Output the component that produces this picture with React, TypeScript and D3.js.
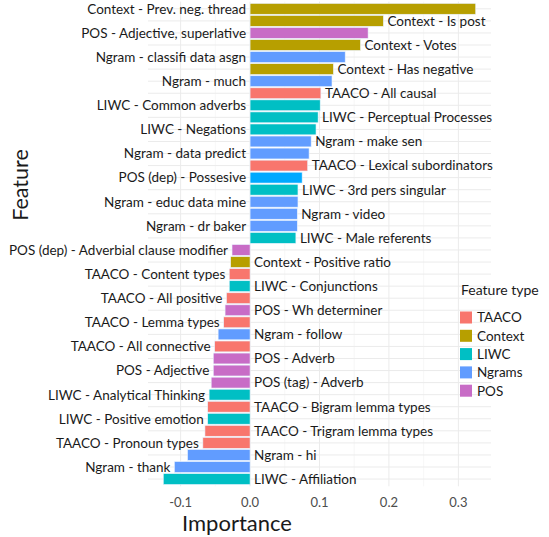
import React from "react";
import * as d3 from "d3";

const features = [
  "Context - Prev. neg. thread",
  "Context - Is post",
  "POS - Adjective, superlative",
  "Context - Votes",
  "Ngram - classifi data asgn",
  "Context - Has negative",
  "Ngram - much",
  "TAACO - All causal",
  "LIWC - Common adverbs",
  "LIWC - Perceptual Processes",
  "LIWC - Negations",
  "Ngram - make sen",
  "Ngram - data predict",
  "TAACO - Lexical subordinators",
  "POS (dep) - Possesive",
  "LIWC - 3rd pers singular",
  "Ngram - educ data mine",
  "Ngram - video",
  "Ngram - dr baker",
  "LIWC - Male referents",
  "POS (dep) - Adverbial clause modifier",
  "Context - Positive ratio",
  "TAACO - Content types",
  "LIWC - Conjunctions",
  "TAACO - All positive",
  "POS - Wh determiner",
  "TAACO - Lemma types",
  "Ngram - follow",
  "TAACO - All connective",
  "POS - Adverb",
  "POS - Adjective",
  "POS (tag) - Adverb",
  "LIWC - Analytical Thinking",
  "TAACO - Bigram lemma types",
  "LIWC - Positive emotion",
  "TAACO - Trigram lemma types",
  "TAACO - Pronoun types",
  "Ngram - hi",
  "Ngram - thank",
  "LIWC - Affiliation",
];

const importance = [
  0.325, 0.192, 0.170, 0.159, 0.137, 0.120, 0.118, 0.102, 0.101, 0.098,
  0.095, 0.088, 0.085, 0.083, 0.075, 0.069, 0.069, 0.068, 0.068, 0.066,
  -0.026, -0.028, -0.030, -0.030, -0.034, -0.036, -0.038, -0.046, -0.051, -0.053,
  -0.053, -0.056, -0.059, -0.061, -0.061, -0.065, -0.068, -0.090, -0.109, -0.125,
];

const featureType = [
  "Context", "Context", "POS", "Context", "Ngrams", "Context", "Ngrams", "TAACO", "LIWC", "LIWC",
  "LIWC", "Ngrams", "Ngrams", "TAACO", "POSdep", "LIWC", "Ngrams", "Ngrams", "Ngrams", "LIWC",
  "POS", "Context", "TAACO", "LIWC", "TAACO", "POS", "TAACO", "Ngrams", "TAACO", "POS",
  "POS", "POS", "LIWC", "TAACO", "LIWC", "TAACO", "TAACO", "Ngrams", "Ngrams", "LIWC",
];

const legendTypes = ["TAACO", "Context", "LIWC", "Ngrams", "POS"];
const typeColors: Record<string, string> = {
  TAACO: "#F8766D",
  Context: "#B79F00",
  LIWC: "#00BFC4",
  Ngrams: "#619CFF",
  POS: "#C86CC6",
  POSdep: "#00A9FF",
};

const majorTicks = [-0.1, 0.0, 0.1, 0.2, 0.3];
const minorTicks = [-0.05, 0.05, 0.15, 0.25];

const W = 549;
const H = 537;
const FONT = "Lato, 'Noto Sans', sans-serif";

export default function App() {
  const panelLeft = 148;
  const panelRight = 491;
  const panelTop = 1.6;
  const panelBottom = 486.3;

  const xMin = -0.147;
  const xMax = 0.347;
  const x = d3.scaleLinear().domain([xMin, xMax]).range([panelLeft, panelRight]);

  const n = features.length;
  const step = (panelBottom - panelTop) / (n + 0.2);
  const y = d3
    .scaleBand<string>()
    .domain(features)
    .range([panelTop + 0.6 * step - step / 2, panelBottom - 0.6 * step + step / 2])
    .paddingInner(0.1)
    .paddingOuter(0.05);
  const yc = (f: string) => (y(f) as number) + y.bandwidth() / 2;

  return (
    <svg
      width={W}
      height={H}
      style={{ position: "absolute", left: 0, top: 0, background: "#fff" }}
      fontFamily={FONT}
    >
      {/* grid */}
      {minorTicks.map((t) => (
        <line key={"mn" + t} x1={x(t)} x2={x(t)} y1={panelTop} y2={panelBottom} stroke="#F2F2F2" strokeWidth={0.6} />
      ))}
      {majorTicks.map((t) => (
        <line key={"mj" + t} x1={x(t)} x2={x(t)} y1={panelTop} y2={panelBottom} stroke="#EBEBEB" strokeWidth={1} />
      ))}
      {features.map((f) => (
        <line key={"hg" + f} x1={panelLeft} x2={panelRight} y1={yc(f)} y2={yc(f)} stroke="#EBEBEB" strokeWidth={1} />
      ))}

      {/* bars */}
      {features.map((f, i) => {
        const v = importance[i];
        const xa = x(Math.min(0, v));
        const xb = x(Math.max(0, v));
        return (
          <rect
            key={"b" + f}
            x={xa}
            y={y(f)}
            width={xb - xa}
            height={y.bandwidth()}
            fill={typeColors[featureType[i]]}
            stroke="#EAF4FF"
            strokeWidth={0.6}
          />
        );
      })}

      {/* labels */}
      {features.map((f, i) => {
        const v = importance[i];
        const left = i % 2 === 0;
        const tx = left ? x(Math.min(0, v)) - 4 : x(Math.max(0, v)) + 4;
        return (
          <text
            key={"l" + f}
            x={tx}
            y={yc(f)}
            dy="0.36em"
            textAnchor={left ? "end" : "start"}
            fontSize={13.5}
            fill="#1a1a1a"
          >
            {f}
          </text>
        );
      })}

      {/* x ticks */}
      {majorTicks.map((t) => (
        <text key={"t" + t} x={x(t)} y={506.5} textAnchor="middle" fontSize={13} fill="#4D4D4D">
          {d3.format(".1f")(t).replace("−", "-")}
        </text>
      ))}

      {/* axis titles */}
      <text x={237} y={530.5} textAnchor="middle" fontSize={22} fill="#1a1a1a">
        Importance
      </text>
      <text
        transform={`translate(28,185) rotate(-90)`}
        textAnchor="middle"
        fontSize={21.5}
        fill="#1a1a1a"
      >
        Feature
      </text>

      {/* legend */}
      <text x={461} y={295} fontSize={14} fill="#1a1a1a">
        Feature type
      </text>
      {legendTypes.map((t, i) => {
        const cy = 317.5 + i * 18.3;
        return (
          <g key={"lg" + t}>
            <rect x={460} y={cy - 6} width={12} height={12} fill={typeColors[t]} />
            <text x={477} y={cy} dy="0.36em" fontSize={13.5} fill="#1a1a1a">
              {t}
            </text>
          </g>
        );
      })}
    </svg>
  );
}
